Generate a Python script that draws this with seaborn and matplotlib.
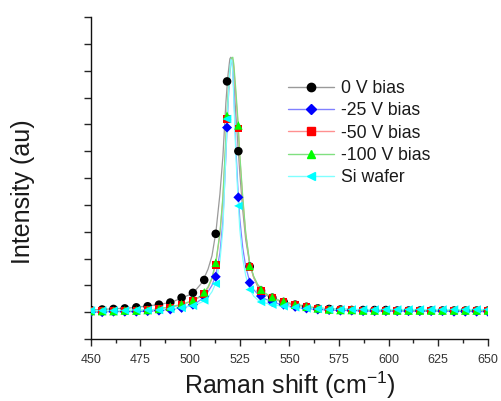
import numpy as np
import pandas as pd
import matplotlib
matplotlib.use("Agg")
import matplotlib.pyplot as plt
from matplotlib.lines import Line2D
import seaborn as sns

sns.set_theme(style="ticks")
plt.rcParams['font.family'] = ['Liberation Sans', 'DejaVu Sans']
plt.rcParams['mathtext.fontset'] = 'custom'
plt.rcParams['mathtext.rm'] = 'Liberation Sans'

series = ["0 V bias", "-25 V bias", "-50 V bias", "-100 V bias", "Si wafer"]
marker_colors = ["#000000", "#0000ff", "#ff0000", "#00ff00", "#00ffff"]
line_colors = ["#9a9a9a", "#8080ff", "#ff9090", "#80e080", "#80ffff"]
marker_styles = ["o", "D", "s", "^", "<"]
marker_sizes = [38, 26, 30, 38, 38]

# measured points (markers)
x_pts = [450.0, 455.7, 461.4, 467.1, 472.9, 478.6, 484.3, 490.0, 495.7, 501.4,
         507.1, 512.9, 518.6, 524.3, 530.0, 535.7, 541.4, 547.1, 552.9, 558.6,
         564.3, 570.0, 575.7, 581.4, 587.1, 592.9, 598.6, 604.3, 610.0, 615.7,
         621.4, 627.1, 632.9, 638.6, 644.3, 650.0]
pts_0v = [0.04, 0.05, 0.06, 0.07, 0.09, 0.11, 0.14, 0.18, 0.27, 0.36,
          0.60, 1.46, 4.30, 3.00, 0.85, 0.40, 0.27, 0.19, 0.14, 0.10,
          0.07, 0.06, 0.05, 0.04, 0.04, 0.04, 0.04, 0.03, 0.03, 0.03,
          0.03, 0.03, 0.03, 0.03, 0.03, 0.03]
pts_25v = [0.00, 0.00, 0.01, 0.01, 0.01, 0.02, 0.03, 0.05, 0.08, 0.14,
           0.29, 0.66, 3.44, 2.14, 0.55, 0.30, 0.19, 0.14, 0.10, 0.07,
           0.05, 0.04, 0.03, 0.03, 0.02, 0.02, 0.02, 0.02, 0.02, 0.02,
           0.02, 0.02, 0.01, 0.01, 0.01, 0.01]
pts_50v = [0.02, 0.02, 0.02, 0.03, 0.03, 0.04, 0.06, 0.09, 0.14, 0.21,
           0.34, 0.88, 3.60, 3.42, 0.84, 0.40, 0.27, 0.19, 0.14, 0.10,
           0.07, 0.05, 0.04, 0.04, 0.03, 0.03, 0.03, 0.03, 0.03, 0.03,
           0.03, 0.03, 0.03, 0.03, 0.03, 0.03]
pts_100v = [0.02, 0.02, 0.02, 0.03, 0.03, 0.04, 0.06, 0.10, 0.15, 0.22,
            0.37, 0.92, 3.66, 3.48, 0.86, 0.42, 0.28, 0.20, 0.14, 0.10,
            0.07, 0.05, 0.04, 0.04, 0.03, 0.03, 0.03, 0.03, 0.03, 0.03,
            0.03, 0.03, 0.03, 0.03, 0.03, 0.03]
pts_si = [0.03, 0.03, 0.03, 0.03, 0.04, 0.04, 0.04, 0.06, 0.08, 0.12,
          0.22, 0.53, 3.60, 1.98, 0.42, 0.19, 0.14, 0.11, 0.09, 0.07,
          0.06, 0.05, 0.05, 0.05, 0.05, 0.05, 0.05, 0.05, 0.05, 0.05,
          0.05, 0.05, 0.05, 0.05, 0.05, 0.05]

# fitted curves (lines)
x_fit = [450, 460, 470, 480, 490, 495, 500, 503, 506, 509, 511, 513, 515, 516.5,
         518, 519, 520, 520.5, 521, 521.5, 522, 523, 524, 525, 526.5, 528, 530,
         532, 534, 537, 540, 545, 550, 560, 570, 590, 620, 650]
fit_0v = [0.04, 0.06, 0.08, 0.12, 0.18, 0.25, 0.33, 0.42, 0.55, 0.80, 1.05, 1.50,
          2.20, 2.90, 3.90, 4.40, 4.72, 4.75, 4.72, 4.55, 4.30, 3.70, 3.15, 2.60,
          1.90, 1.35, 0.90, 0.65, 0.48, 0.35, 0.28, 0.21, 0.16, 0.09, 0.06, 0.04,
          0.03, 0.03]
fit_25v = [0.00, 0.01, 0.01, 0.02, 0.05, 0.08, 0.12, 0.17, 0.25, 0.38, 0.50, 0.70,
           1.10, 1.70, 2.90, 3.80, 4.50, 4.70, 4.70, 4.50, 4.10, 3.10, 2.35, 1.75,
           1.20, 0.85, 0.57, 0.42, 0.34, 0.26, 0.21, 0.15, 0.11, 0.06, 0.04, 0.02,
           0.02, 0.01]
fit_50v = [0.02, 0.02, 0.03, 0.04, 0.09, 0.13, 0.19, 0.24, 0.31, 0.45, 0.62, 0.92,
           1.45, 2.10, 3.20, 3.95, 4.50, 4.65, 4.72, 4.70, 4.55, 4.05, 3.55, 2.90,
           2.10, 1.45, 0.90, 0.65, 0.50, 0.36, 0.29, 0.21, 0.16, 0.09, 0.05, 0.04,
           0.03, 0.03]
fit_100v = [0.02, 0.02, 0.03, 0.04, 0.10, 0.14, 0.20, 0.25, 0.32, 0.47, 0.64, 0.95,
            1.48, 2.15, 3.25, 4.00, 4.52, 4.68, 4.74, 4.75, 4.62, 4.15, 3.62, 2.95,
            2.15, 1.48, 0.92, 0.67, 0.52, 0.38, 0.30, 0.22, 0.17, 0.10, 0.06, 0.04,
            0.03, 0.03]
fit_si = [0.03, 0.03, 0.04, 0.04, 0.06, 0.08, 0.11, 0.14, 0.19, 0.28, 0.38, 0.55,
          0.95, 1.55, 2.95, 3.85, 4.50, 4.70, 4.70, 4.45, 4.00, 2.95, 2.20, 1.55,
          1.00, 0.68, 0.43, 0.30, 0.23, 0.18, 0.15, 0.12, 0.10, 0.07, 0.06, 0.05,
          0.05, 0.05]

pts_all = [pts_0v, pts_25v, pts_50v, pts_100v, pts_si]
fit_all = [fit_0v, fit_25v, fit_50v, fit_100v, fit_si]

pts_df = pd.concat([pd.DataFrame({"x": x_pts, "y": v, "series": s})
                    for s, v in zip(series, pts_all)], ignore_index=True)
fit_df = pd.concat([pd.DataFrame({"x": x_fit, "y": v, "series": s})
                    for s, v in zip(series, fit_all)], ignore_index=True)

fig = plt.figure(figsize=(5.02, 4.01), dpi=100)
ax = fig.add_axes([0.181, 0.1546, 0.791, 0.803])

for i, s in enumerate(series):
    sns.lineplot(data=fit_df[fit_df.series == s], x="x", y="y", color=line_colors[i],
                 lw=0.9, ax=ax, legend=False, zorder=2, sort=True)
for i, s in enumerate(series):
    sns.scatterplot(data=pts_df[pts_df.series == s], x="x", y="y",
                    color=marker_colors[i], marker=marker_styles[i], s=marker_sizes[i],
                    edgecolor="none", linewidth=0, ax=ax, legend=False, zorder=3 + i)

ax.set_xlim(450, 650)
ax.set_ylim(-0.5, 5.5)
ax.set_xticks([450, 475, 500, 525, 550, 575, 600, 625, 650])
ax.set_xticks(np.arange(462.5, 650, 25), minor=True)
ax.set_yticks(np.arange(-0.5, 5.51, 0.5))
ax.set_yticklabels([])
ax.tick_params(axis="x", which="major", length=5, width=1, labelsize=9,
               labelcolor="#333333", direction="out", pad=6)
ax.tick_params(axis="x", which="minor", length=3, width=1, direction="out")
ax.tick_params(axis="y", which="major", length=5, width=1, direction="out")
for sp in ["top", "right"]:
    ax.spines[sp].set_visible(False)
for sp in ["left", "bottom"]:
    ax.spines[sp].set_linewidth(1)
    ax.spines[sp].set_color("#111111")

ax.set_xlabel("Raman shift (cm$^{\\mathregular{-1}}$)", fontsize=18, color="#1a1a1a")
ax.xaxis.set_label_coords(0.5, -0.095)
ax.set_ylabel("Intensity (au)", fontsize=18, color="#1a1a1a")
ax.yaxis.set_label_coords(-0.171, 0.457)
ax.yaxis.label.set_verticalalignment("center")

handles = [Line2D([0], [0], color=line_colors[i], lw=1, marker=marker_styles[i],
                  markerfacecolor=marker_colors[i], markeredgecolor=marker_colors[i],
                  markersize=6 if marker_styles[i] != "D" else 5)
           for i in range(len(series))]
leg = ax.legend(handles, series, loc="upper left", bbox_to_anchor=(288 / 502, 1 - 80 / 401),
                bbox_transform=fig.transFigure, frameon=False, fontsize=12.7,
                handlelength=2.6, handletextpad=0.4, labelspacing=0.3, borderpad=0,
                borderaxespad=0)
for t in leg.get_texts():
    t.set_color("#1a1a1a")

fig.savefig("out.png", dpi=100)
